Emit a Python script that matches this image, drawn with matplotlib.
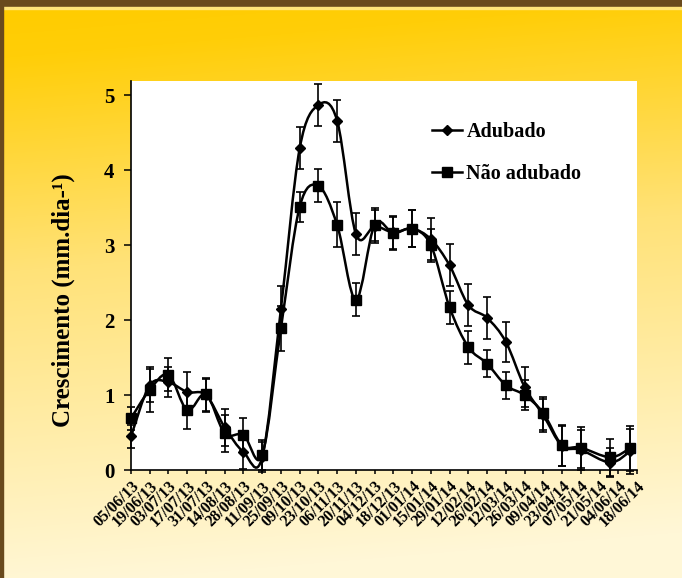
import numpy as np
import pandas as pd
import matplotlib
matplotlib.use("Agg")
import matplotlib.pyplot as plt
from matplotlib.path import Path
from matplotlib.patches import PathPatch, Rectangle
from matplotlib.lines import Line2D

plt.rcParams['font.family'] = ['Liberation Serif', 'DejaVu Serif']
plt.rcParams['font.weight'] = 'bold'

# datas das medições
datas = ['05/06/13', '19/06/13', '03/07/13', '17/07/13', '31/07/13', '14/08/13',
         '28/08/13', '11/09/13', '25/09/13', '09/10/13', '23/10/13', '06/11/13',
         '20/11/13', '04/12/13', '18/12/13', '01/01/14', '15/01/14', '29/01/14',
         '12/02/14', '26/02/14', '12/03/14', '26/03/14', '09/04/14', '23/04/14',
         '07/05/14', '29/05/14', '13/06/14']

adubado = [0.45, 1.13, 1.17, 1.04, 1.00, 0.57, 0.24, 0.17, 2.15, 4.29, 4.87, 4.66,
           3.15, 3.25, 3.17, 3.22, 3.08, 2.73, 2.20, 2.03, 1.71, 1.11, 0.73, 0.32,
           0.27, 0.10, 0.25]
erro_adubado = [0.15, 0.22, 0.20, 0.27, 0.22, 0.25, 0.22, 0.20, 0.30, 0.28, 0.28, 0.28,
                0.28, 0.22, 0.22, 0.25, 0.28, 0.28, 0.28, 0.28, 0.27, 0.27, 0.22, 0.27,
                0.27, 0.20, 0.30]

nao_adubado = [0.69, 1.07, 1.27, 0.80, 1.01, 0.49, 0.47, 0.20, 1.89, 3.51, 3.79, 3.27,
               2.27, 3.27, 3.16, 3.22, 3.00, 2.17, 1.64, 1.42, 1.13, 1.00, 0.76, 0.33,
               0.30, 0.17, 0.29]
erro_nao_adubado = [0.15, 0.30, 0.22, 0.25, 0.22, 0.25, 0.22, 0.20, 0.30, 0.20, 0.22, 0.30,
                    0.22, 0.22, 0.22, 0.25, 0.22, 0.22, 0.22, 0.18, 0.18, 0.20, 0.22, 0.27,
                    0.27, 0.25, 0.30]

rotulos = ['05/06/13', '19/06/13', '03/07/13', '17/07/13', '31/07/13', '14/08/13',
           '28/08/13', '11/09/13', '25/09/13', '09/10/13', '23/10/13', '06/11/13',
           '20/11/13', '04/12/13', '18/12/13', '01/01/14', '15/01/14', '29/01/14',
           '12/02/14', '26/02/14', '12/03/14', '26/03/14', '09/04/14', '23/04/14',
           '07/05/14', '21/05/14', '04/06/14', '18/06/14']

inicio = pd.Timestamp('2013-06-05')
x = (pd.to_datetime(datas, format='%d/%m/%y') - inicio).days.values.astype(float)
x_ticks = (pd.to_datetime(rotulos, format='%d/%m/%y') - inicio).days.values.astype(float)


def curva_suave(xs, ys):
    # linha suavizada (catmull-rom em bezier cubica)
    n = len(xs)
    verts = [(xs[0], ys[0])]
    codes = [Path.MOVETO]
    for i in range(n - 1):
        a = max(i - 1, 0)
        b = min(i + 2, n - 1)
        c1 = (xs[i] + (xs[i + 1] - xs[a]) / 6, ys[i] + (ys[i + 1] - ys[a]) / 6)
        c2 = (xs[i + 1] - (xs[b] - xs[i]) / 6, ys[i + 1] - (ys[b] - ys[i]) / 6)
        verts += [c1, c2, (xs[i + 1], ys[i + 1])]
        codes += [Path.CURVE4] * 3
    return Path(verts, codes)


fig = plt.figure(figsize=(6.82, 5.78), dpi=100)

# fundo em degrade amarelo
H, W = 578, 682
yy, xx = np.mgrid[0:H, 0:W]
t = np.clip(yy / H + 0.10 * (xx / W) - 0.02, 0, 1)
pos = [0.0, 0.08, 0.45, 1.0]
r = np.interp(t, pos, [255, 255, 255, 255])
g = np.interp(t, pos, [204, 206, 226, 247])
bl = np.interp(t, pos, [0, 8, 120, 215])
fundo = np.dstack([r, g, bl]) / 255
bg = fig.add_axes([0, 0, 1, 1], zorder=-5)
bg.imshow(fundo, aspect='auto', extent=[0, 1, 0, 1])
bg.axis('off')

fig.patches.append(Rectangle((0, 1 - 7 / H), 1, 7 / H, transform=fig.transFigure,
                             color='#694a1d', zorder=-1))
fig.patches.append(Rectangle((0, 1 - 9 / H), 1, 2 / H, transform=fig.transFigure,
                             color='#ffe47a', zorder=-1))
fig.patches.append(Rectangle((0, 0), 3 / W, 1, transform=fig.transFigure,
                             color='#694a1d', zorder=-1))

ax = fig.add_axes([131 / W, 108 / H, 506 / W, 389 / H])
ax.set_facecolor('white')

ax.errorbar(x, adubado, yerr=erro_adubado, fmt='none', ecolor='black',
            elinewidth=1.2, capsize=3.2, capthick=1.2, clip_on=False)
ax.errorbar(x, nao_adubado, yerr=erro_nao_adubado, fmt='none', ecolor='black',
            elinewidth=1.2, capsize=3.2, capthick=1.2, clip_on=False)

ax.add_patch(PathPatch(curva_suave(x, np.array(adubado)), fill=False,
                       edgecolor='black', lw=1.8, clip_on=False))
ax.add_patch(PathPatch(curva_suave(x, np.array(nao_adubado)), fill=False,
                       edgecolor='black', lw=1.8, clip_on=False))

ax.plot(x, adubado, 'D', color='black', ms=5, clip_on=False, zorder=4)
ax.plot(x, nao_adubado, 's', color='black', ms=7, clip_on=False, zorder=4)

ax.set_xlim(0, x_ticks[-1])
ax.set_ylim(0, 5.19)

for lado in ['top', 'right']:
    ax.spines[lado].set_visible(False)
for lado in ['left', 'bottom']:
    ax.spines[lado].set_linewidth(1.2)

ax.set_yticks([0, 1, 2, 3, 4, 5])
ax.set_yticklabels(['0', '1', '2', '3', '4', '5'], fontsize=15, fontweight='bold')
ax.tick_params(axis='y', direction='out', length=5, width=1.1, pad=7)

ax.set_xticks(x_ticks)
ax.set_xticklabels(rotulos, rotation=45, ha='right', va='top', rotation_mode='anchor',
                   fontsize=11.5, fontweight='bold')
ax.tick_params(axis='x', direction='out', length=3, width=1.1, pad=3)

fig.text(63 / W, 1 - 300 / H, 'Crescimento (mm.dia-¹)', rotation=90, ha='center',
         va='center', fontsize=18, fontweight='bold')

itens = [Line2D([], [], color='black', lw=1.8, marker='D', ms=5),
         Line2D([], [], color='black', lw=1.8, marker='s', ms=7)]
ax.legend(itens, ['Adubado', 'Não adubado'], loc='upper left',
          bbox_to_anchor=(0.595, 0.895), frameon=False, borderpad=0, borderaxespad=0,
          handlelength=1.5, handletextpad=0.2, labelspacing=1.1,
          prop={'family': 'Liberation Serif', 'weight': 'bold', 'size': 14.5})

fig.savefig('out.png', dpi=100)
